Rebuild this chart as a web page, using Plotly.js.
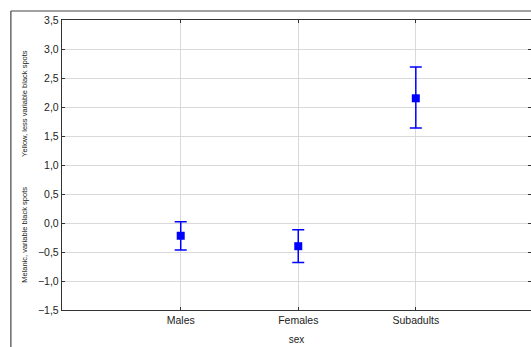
<!DOCTYPE html>
<html>
<head>
<meta charset="utf-8">
<script src="https://cdn.plot.ly/plotly-3.0.1.min.js"></script>
<style>
  html, body { margin: 0; padding: 0; background: #fff; }
  #chart { width: 531px; height: 347px; }
</style>
</head>
<body>
<div id="chart"></div>
<script>
// Data
var categories = ["Males", "Females", "Subadults"];
var means = [-0.22, -0.40, 2.15];
var upper = [0.02, -0.115, 2.69];
var lower = [-0.465, -0.68, 1.64];
var yTickVals = [-1.5, -1.0, -0.5, 0.0, 0.5, 1.0, 1.5, 2.0, 2.5, 3.0, 3.5];

var errPlus = means.map(function (m, i) { return upper[i] - m; });
var errMinus = means.map(function (m, i) { return m - lower[i]; });

var trace = {
  type: "scatter",
  mode: "markers",
  x: categories,
  y: means,
  marker: { symbol: "square", size: 8, color: "#0000ff" },
  error_y: {
    type: "data",
    symmetric: false,
    array: errPlus,
    arrayminus: errMinus,
    color: "#0000ff",
    thickness: 1.5,
    width: 6
  },
  hoverinfo: "skip",
  showlegend: false
};

var fontFam = "Liberation Sans, Arial, sans-serif";
var layout = {
  width: 531,
  height: 347,
  margin: { l: 62, r: 0, t: 20, b: 37 },
  paper_bgcolor: "#ffffff",
  plot_bgcolor: "#ffffff",
  separators: ", ",
  font: { family: fontFam, size: 10, color: "#222" },
  xaxis: {
    type: "category",
    categoryorder: "array",
    categoryarray: categories,
    range: [-1.01, 2.98],
    showgrid: true,
    gridcolor: "#d9d9d9",
    gridwidth: 1,
    showline: true,
    linecolor: "#333",
    linewidth: 1.2,
    mirror: "ticks",
    ticks: "inside",
    ticklen: 3,
    tickcolor: "#333",
    tickfont: { family: fontFam, size: 10.5, color: "#222" },
    zeroline: false,
    fixedrange: true,
    title: { text: "sex", font: { family: fontFam, size: 10, color: "#222" }, standoff: 11 }
  },
  yaxis: {
    range: [-1.5, 3.5],
    tickvals: yTickVals,
    tickformat: ".1f",
    showgrid: true,
    gridcolor: "#d9d9d9",
    gridwidth: 1,
    showline: true,
    linecolor: "#333",
    linewidth: 1.2,
    mirror: "ticks",
    ticks: "inside",
    ticklen: 3,
    tickcolor: "#333",
    tickfont: { family: fontFam, size: 10.5, color: "#222" },
    zeroline: false,
    fixedrange: true
  },
  shapes: [
    { type: "line", xref: "paper", yref: "paper", x0: -0.109, x1: -0.109, y0: 1.031, y1: -0.13,
      line: { color: "#444", width: 1.2 } },
    { type: "line", xref: "paper", yref: "paper", x0: -0.109, x1: 1.01, y0: 1.031, y1: 1.031,
      line: { color: "#444", width: 1.2 } }
  ],
  annotations: [
    { text: "Yellow, less variable black spots", xref: "paper", yref: "paper",
      x: -0.079, y: 0.714, xanchor: "center", yanchor: "middle", textangle: -90, showarrow: false,
      font: { family: fontFam, size: 7.5, color: "#222" } },
    { text: "Melanic, variable black spots", xref: "paper", yref: "paper",
      x: -0.079, y: 0.259, xanchor: "center", yanchor: "middle", textangle: -90, showarrow: false,
      font: { family: fontFam, size: 7.5, color: "#222" } }
  ]
};

Plotly.newPlot("chart", [trace], layout, { staticPlot: true, displayModeBar: false });
</script>
</body>
</html>
